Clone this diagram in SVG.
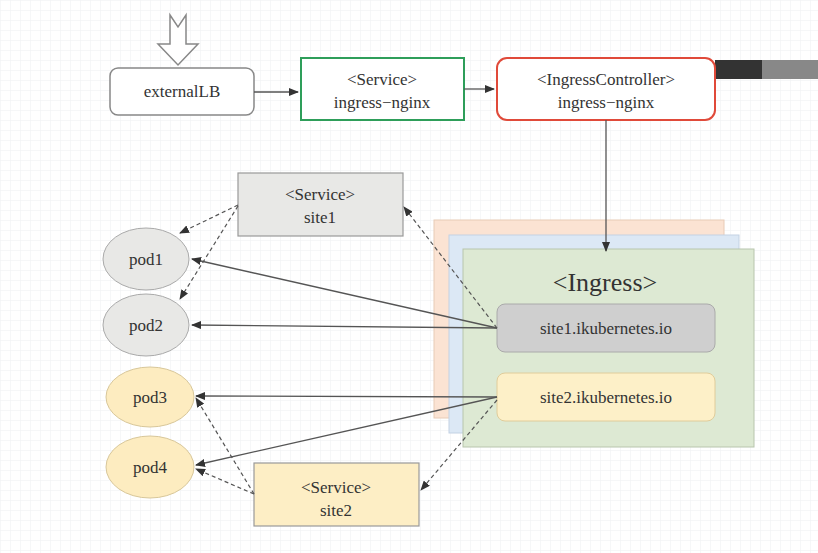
<svg xmlns="http://www.w3.org/2000/svg" width="818" height="553" viewBox="0 0 818 553">
<defs>
<pattern id="grid" width="10" height="10" patternUnits="userSpaceOnUse"><path d="M10 0H0V10" fill="none" stroke="#eef0f2" stroke-width="1"/></pattern>
<marker id="ah" markerWidth="10" markerHeight="8" refX="9" refY="4" orient="auto" markerUnits="userSpaceOnUse"><path d="M0,0 L10,4 L0,8 Z" fill="#333"/></marker>
<style>
text{font-family:"Liberation Serif","Times New Roman",serif;font-size:17px;fill:#333;text-anchor:middle}
.s{stroke:#555;stroke-width:1.3;fill:none;marker-end:url(#ah)}
.d{stroke:#555;stroke-width:1.2;fill:none;stroke-dasharray:4,3;marker-end:url(#ah)}
.b{stroke:#999;stroke-width:1.2}
</style>
</defs>
<rect width="818" height="553" fill="#fff"/>
<rect width="818" height="553" fill="url(#grid)"/>
<rect x="715" y="60" width="47" height="19" fill="#333"/>
<rect x="762" y="60" width="56" height="19" fill="#888"/>
<g id="inarrow"><path d="M170,15 L178,27 L186,15 L186,44 L198,44 L178,65 L158,44 L170,44 Z" fill="#fff" stroke="#888" stroke-width="1.5"/></g>
<g id="externalLB"><rect x="110" y="68" width="144" height="47" rx="8" fill="#fff" stroke="#888" stroke-width="1.5"/><text x="182" y="97">externalLB</text></g>
<g id="svc-nginx"><rect x="301" y="58" width="163" height="62" fill="#fff" stroke="#2e9e5a" stroke-width="2"/><text x="382" y="85">&lt;Service&gt;</text><text x="382" y="108">ingress−nginx</text></g>
<g id="ctrl"><rect x="497" y="58" width="218" height="62" rx="10" fill="#fff" stroke="#e04a3a" stroke-width="2"/><text x="606" y="85">&lt;IngressController&gt;</text><text x="606" y="108">ingress−nginx</text></g>
<g id="ingress">
<rect x="434" y="220" width="290" height="198" fill="#fbe3d3" stroke="#e8cbb6"/>
<rect x="449" y="235" width="290" height="198" fill="#dce8f5" stroke="#c3d2e3"/>
<rect x="463" y="249" width="291" height="198" fill="#dde9d3" stroke="#b8c5ad"/>
<text x="605" y="291" style="font-size:26px">&lt;Ingress&gt;</text>
</g>
<g id="site1"><rect x="497" y="304" width="218" height="48" rx="8" fill="#cfcfcf" stroke="#aaa"/><text x="606" y="334">site1.ikubernetes.io</text></g>
<g id="site2"><rect x="497" y="373" width="218" height="48" rx="8" fill="#fdf0c8" stroke="#e0cc9a"/><text x="606" y="403">site2.ikubernetes.io</text></g>
<g id="svc-site1"><rect x="238" y="173" width="165" height="63" fill="#e8e8e6" class="b"/><text x="320" y="200">&lt;Service&gt;</text><text x="320" y="223">site1</text></g>
<g id="svc-site2"><rect x="254" y="463" width="165" height="63" fill="#fdeec5" class="b"/><text x="336" y="493">&lt;Service&gt;</text><text x="336" y="516">site2</text></g>
<g id="pod1"><ellipse cx="146" cy="259" rx="43" ry="31" fill="#e8e8e6" stroke="#aaa"/><text x="146" y="265">pod1</text></g>
<g id="pod2"><ellipse cx="146" cy="325" rx="43" ry="31" fill="#e8e8e6" stroke="#aaa"/><text x="146" y="331">pod2</text></g>
<g id="pod3"><ellipse cx="150" cy="397" rx="44" ry="30" fill="#fdecc0" stroke="#d8c79a"/><text x="150" y="403">pod3</text></g>
<g id="pod4"><ellipse cx="150" cy="467" rx="44" ry="31" fill="#fdecc0" stroke="#d8c79a"/><text x="150" y="473">pod4</text></g>
<g id="connectors">
<line x1="254" y1="92" x2="298" y2="92" class="s"/>
<line x1="464" y1="89" x2="494" y2="89" class="s"/>
<line x1="606" y1="120" x2="606" y2="251" class="s"/>
<line x1="497" y1="328" x2="192" y2="259" class="s"/>
<line x1="497" y1="328" x2="192" y2="325" class="s"/>
<line x1="497" y1="397" x2="196" y2="396" class="s"/>
<line x1="497" y1="397" x2="196" y2="465" class="s"/>
<line x1="497" y1="328" x2="404" y2="207" class="d"/>
<line x1="238" y1="205" x2="180" y2="233" class="d"/>
<line x1="238" y1="206" x2="180" y2="299" class="d"/>
<line x1="497" y1="400" x2="421" y2="490" class="d"/>
<line x1="254" y1="494" x2="196" y2="398" class="d"/>
<line x1="254" y1="494" x2="196" y2="469" class="d"/>
</g>
</svg>
